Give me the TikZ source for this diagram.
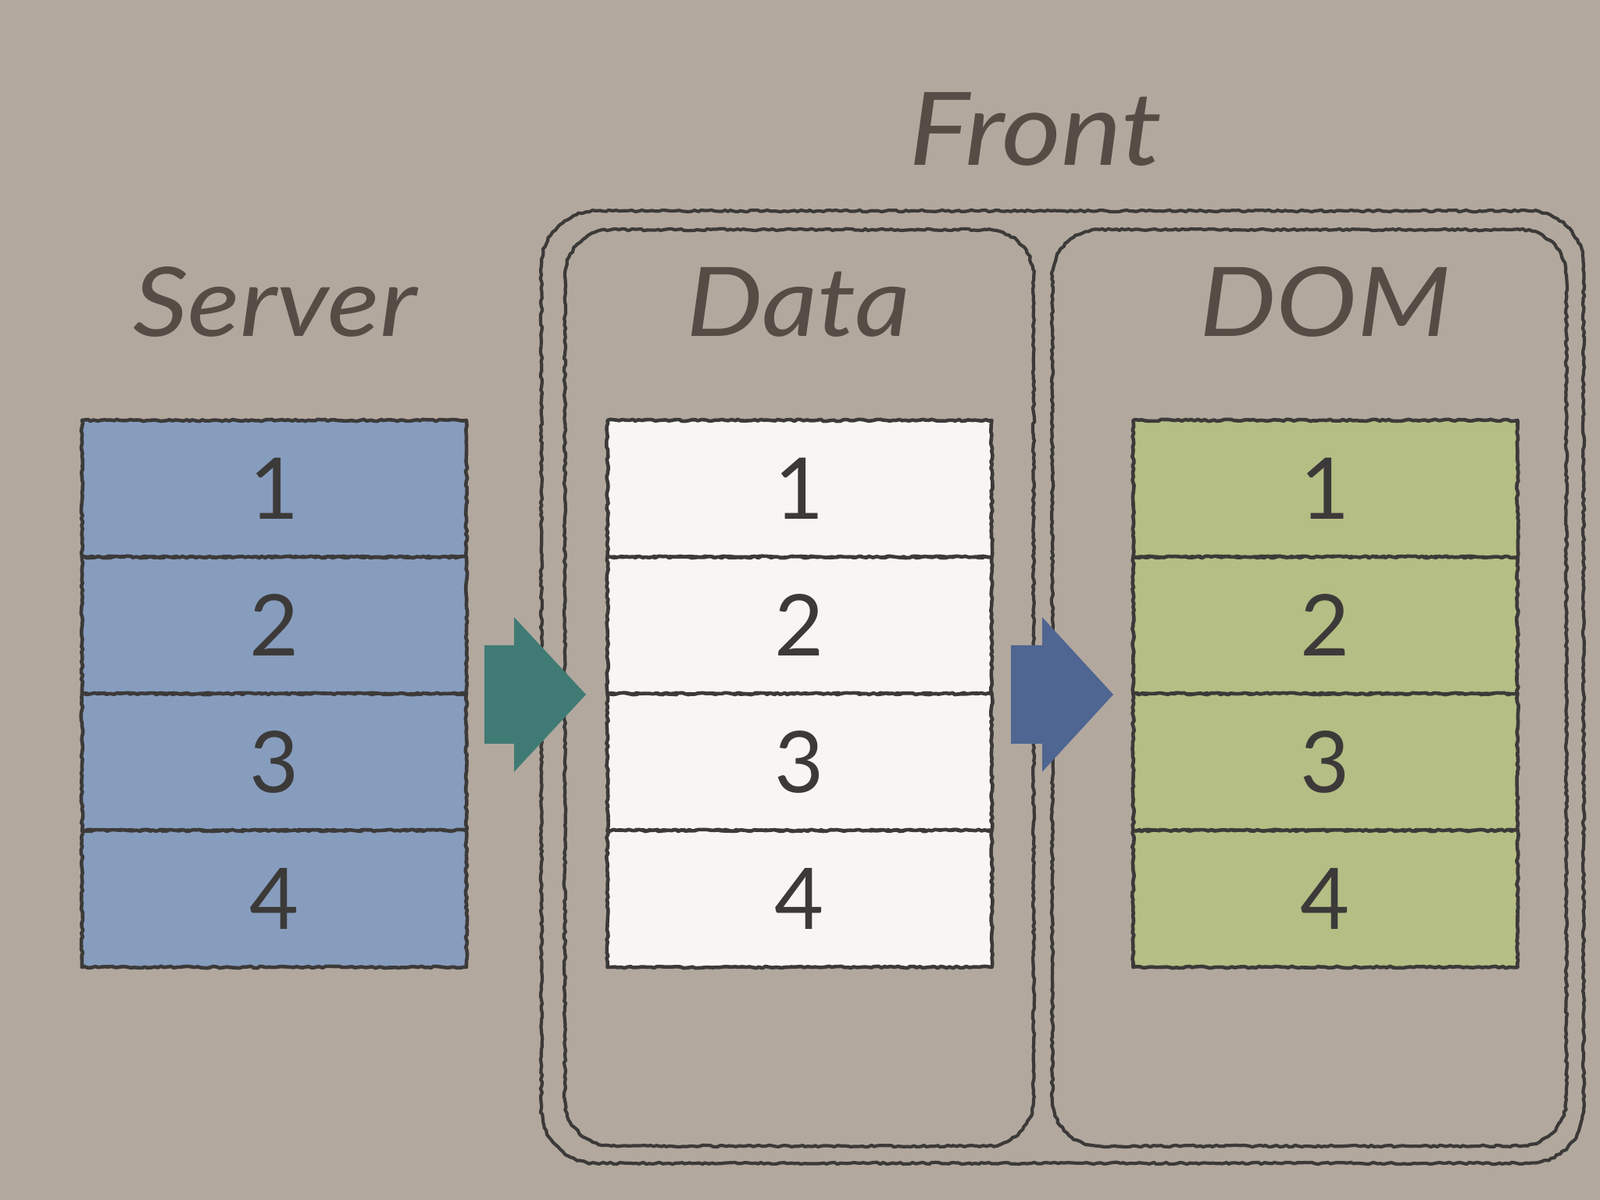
\documentclass[tikz,border=0pt]{standalone}
\usepackage{fontspec}
\setmainfont{Lato}
\newfontfamily\titlefont[FakeStretch=1.13]{Lato}
\usetikzlibrary{decorations.pathmorphing}
\definecolor{paper}{HTML}{B2A89E}
\definecolor{ink}{HTML}{3C3A39}
\definecolor{labelink}{HTML}{574C45}
\definecolor{serverfill}{HTML}{879DBE}
\definecolor{datafill}{HTML}{F8F6F3}
\definecolor{domfill}{HTML}{B5BE84}
\definecolor{tealarrow}{HTML}{3F7B74}
\definecolor{bluearrow}{HTML}{4F6592}
\begin{document}
\begin{tikzpicture}[line join=round,line cap=round,
	rough/.style={draw=ink,line width=1.3pt,decorate,decoration={random steps,segment length=1.2pt,amplitude=0.35pt}},
	frame/.style={draw=ink,line width=1.2pt,decoration={random steps,segment length=1.2pt,amplitude=0.35pt}},
	cell/.style={rough,rectangle,minimum width=4.92cm,minimum height=1.75cm,inner sep=0pt,font=\fontsize{31}{31}\selectfont,text=ink},
	title/.style={anchor=base,text=labelink,font=\fontsize{35}{35}\selectfont\titlefont\itshape}]
	\fill[paper] (0,0) rectangle (20.48,15.36);
	\useasboundingbox (0,0) rectangle (20.48,15.36);
	% frames
	\draw[frame] decorate {[rounded corners=0.7cm] (6.93,0.47) rectangle (20.27,12.66)};
	\draw[frame] decorate {[rounded corners=0.6cm] (7.23,0.69) rectangle (13.23,12.42)};
	\draw[frame] decorate {[rounded corners=0.6cm] (13.47,0.69) rectangle (20.05,12.42)};
	% titles
	\node[title,font=\fontsize{37}{37}\selectfont\titlefont\itshape] (front) at (13.26,13.24) {Front};
	\node[title] (server) at (3.52,11.05) {Server};
	\node[title] (data) at (10.22,11.05) {Data};
	\node[title] (dom) at (16.96,11.05) {DOM};
	% tables
	\foreach \n/\y in {1/9.105,2/7.355,3/5.605,4/3.855}{
		\node[cell,fill=serverfill] (s\n) at (3.51,\y) {\n};
		\node[cell,fill=datafill] (d\n) at (10.235,\y) {\n};
		\node[cell,fill=domfill] (m\n) at (16.965,\y) {\n};
	}
	% arrows
	\fill[tealarrow] (6.20,5.84)--(6.58,5.84)--(6.58,5.48)--(7.50,6.47)--(6.58,7.46)--(6.58,7.10)--(6.20,7.10)--cycle;
	\fill[bluearrow] (12.94,5.84)--(13.34,5.84)--(13.34,5.48)--(14.25,6.47)--(13.34,7.46)--(13.34,7.10)--(12.94,7.10)--cycle;
\end{tikzpicture}
\end{document}
